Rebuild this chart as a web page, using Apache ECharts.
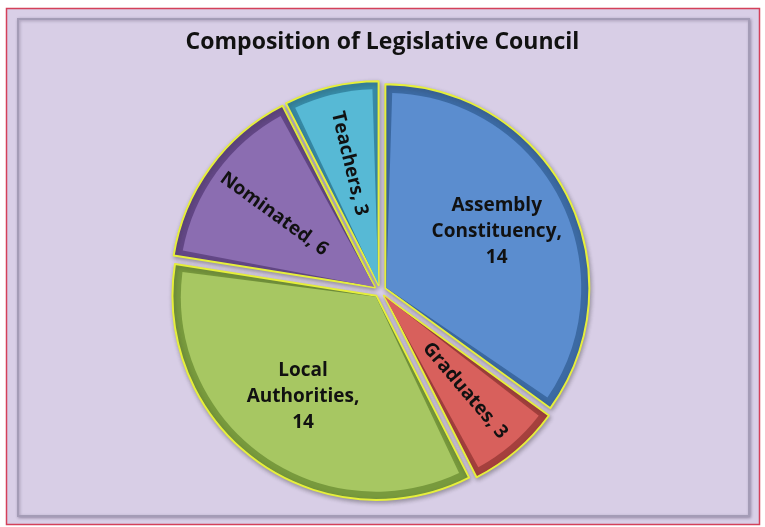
<!DOCTYPE html>
<html><head><meta charset="utf-8">
<script src="https://cdn.jsdelivr.net/npm/echarts@6/dist/echarts.min.js"></script>
<style>html,body{margin:0;padding:0;background:#fff}#c{width:765px;height:527px}</style>
</head><body><div id="c"></div>
<script>
const titleText = 'Composition of Legislative Council';
const categories = ['Assembly Constituency', 'Graduates', 'Local Authorities', 'Nominated', 'Teachers'];
const values = [14, 3, 14, 6, 3];
const labelRotations = [0, 'radial', 0, 'radial', 'radial'];
const faceColors = ['#5b8dcf', '#d8605c', '#a7c762', '#8b6db1', '#57b9d5'];
const edgeColors = ['#3c6aa3', '#a5403d', '#789a3d', '#634786', '#378aa6'];

const chart = echarts.init(document.getElementById('c'), null, {renderer: 'canvas'});
const cx = 380, cy = 291, R = 204, off = 6;

const baseData = categories.map((c, i) => ({name: c, value: values[i], selected: true,
  itemStyle: {color: edgeColors[i]}}));
const faceData = categories.map((c, i) => ({name: c, value: values[i], selected: true,
  itemStyle: {color: faceColors[i]}}));
const labelData = categories.map((c, i) => ({name: c, value: values[i], selected: true,
  itemStyle: {color: 'rgba(0,0,0,0)'},
  label: {rotate: labelRotations[i]}}));

function fmt(p) {
  const i = p.dataIndex;
  if (labelRotations[i] === 0) return p.name.replace(' ', '\n') + ',\n' + p.value;
  return p.name + ', ' + p.value;
}

const common = {type: 'pie', center: [cx, cy], startAngle: 90, clockwise: true,
  selectedMode: 'multiple', silent: true, emphasis: {disabled: true}, labelLine: {show: false}};

chart.setOption({
  backgroundColor: '#ffffff',
  animation: false,
  title: {text: titleText, left: 'center', top: 26,
    textStyle: {fontFamily: 'Open Sans', fontWeight: 'bold', fontSize: 23, color: '#111'}},
  graphic: [
    {type: 'rect', z: 0, shape: {x: 6.5, y: 8.5, width: 753, height: 516},
     style: {fill: '#d9cfe7', stroke: '#d4405a', lineWidth: 1.5}},
    {type: 'rect', z: 0, shape: {x: 18, y: 19, width: 731, height: 497},
     style: {fill: '#d8cee6', stroke: '#a49cb6', lineWidth: 2,
       shadowColor: 'rgba(60,50,80,0.35)', shadowBlur: 3, shadowOffsetX: 1, shadowOffsetY: 1}}
  ],
  series: [
    Object.assign({}, common, {radius: [0, R], selectedOffset: off, z: 2,
     label: {show: false},
     itemStyle: {borderColor: '#e6ef3c', borderWidth: 2,
       shadowColor: 'rgba(40,40,40,0.35)', shadowBlur: 4, shadowOffsetX: 1, shadowOffsetY: 2},
     data: baseData}),
    Object.assign({}, common, {radius: [0, R - 9], selectedOffset: off + 1, z: 3, padAngle: 3.5,
     label: {show: false},
     itemStyle: {borderWidth: 0},
     data: faceData}),
    Object.assign({}, common, {radius: [0, 244], selectedOffset: off, z: 4,
     itemStyle: {borderWidth: 0},
     label: {show: true, position: 'inside', formatter: fmt,
       fontFamily: 'Open Sans', fontWeight: 'bold', fontSize: 19, color: '#111', lineHeight: 26,
       align: 'center'},
     data: labelData})
  ]
});
</script></body></html>
